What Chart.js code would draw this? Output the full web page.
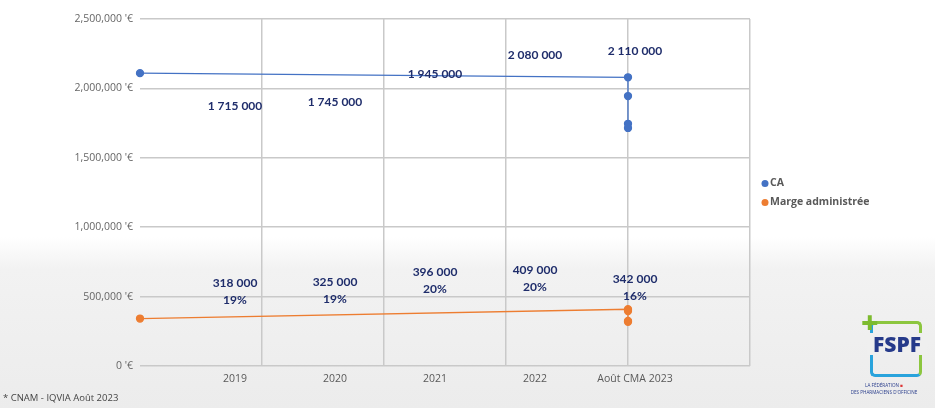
<!DOCTYPE html>
<html>
<head>
<meta charset="utf-8">
<script src="https://cdn.jsdelivr.net/npm/chart.js@4.4.1/dist/chart.umd.min.js"></script>
<style>
    body {
        margin: 0;
        width: 935px;
        height: 408px;
        overflow: hidden;
        background: linear-gradient(to bottom, #ffffff 0%, #ffffff 58%, #f2f2f2 66%, #ececec 100%);
        font-family: "Open Sans", sans-serif;
        position: relative;
    }
    #wrap { position: absolute; left: 0; top: 0; width: 935px; height: 408px; }
    #source { position: absolute; left: 3px; top: 391px; font-size: 9.5px; color: #444; }
    #logo { position: absolute; left: 858px; top: 308px; width: 77px; height: 100px; }
    #logo .box {
        position: absolute; left: 12px; top: 13px; width: 46px; height: 50px;
        border: 3px solid #8cc63f; border-left-color: #29a3dc; border-bottom-color: #29a3dc;
        border-radius: 5px;
    }
    #logo .plus { position: absolute; left: 3px; top: 0px; font-size: 30px; font-weight: 900; color: #7dbb2f; line-height: 28px; }
    #logo .name {
        position: absolute; left: 9px; top: 25px; width: 60px; text-align: center;
        font-family: "Open Sans", sans-serif; font-weight: 800; font-size: 21px; color: #263a8a;
        background: #efefef; line-height: 22px;
    }
    #logo .sub { position: absolute; left: -26px; top: 74px; width: 104px; text-align: center; font-size: 4.6px; line-height: 7px; color: #263a8a; white-space: nowrap; }
</style>
</head>
<body>
<div id="wrap"><canvas id="myChart"></canvas></div>
<div id="source">* CNAM - IQVIA Août 2023</div>
<div id="logo">
    <div class="box"></div>
    <div class="plus">+</div>
    <div class="name">FSPF</div>
    <div class="sub">LA FÉDÉRATION <span style="color:#d33">■</span><br>DES PHARMACIENS D'OFFICINE</div>
</div>
<script>
    // données
    var categories = ['2019', '2020', '2021', '2022', 'Août CMA 2023'];
    var ca = [1715000, 1745000, 1945000, 2080000, 2110000];
    var marge = [318000, 325000, 396000, 409000, 342000];
    var taux = ['19%', '19%', '20%', '20%', '16%'];
    // abscisse (x) donnée à chaque point par le tableur
    var pointX = [4, 4, 4, 4, 0];

    var yTicks = [0, 500000, 1000000, 1500000, 2000000, 2500000];

    function points(values) {
        var out = [];
        for (var i = values.length - 1; i >= 0; i--) {
            out.push({ x: pointX[i], y: values[i] });
        }
        return out;
    }

    var labelFont = 'bold 12px Lato';
    var labelColor = '#1f2d6b';

    // étiquettes de données + légende
    const extras = {
        id: 'extras',
        afterDatasetsDraw(chart) {
            const ctx = chart.ctx;
            const xc = chart.scales.xc;
            const y = chart.scales.y;
            ctx.save();
            ctx.font = labelFont;
            ctx.fillStyle = labelColor;
            ctx.textAlign = 'center';
            ctx.textBaseline = 'middle';
            for (let i = 0; i < categories.length; i++) {
                let px = xc.getPixelForValue(i + 1);
                let py = y.getPixelForValue(ca[i]) - 22;
                ctx.fillText(ca[i].toLocaleString('fr-FR').replace(/\s/g, ' '), px, py);
                let my = y.getPixelForValue(marge[i]) - 22;
                ctx.fillText(marge[i].toLocaleString('fr-FR').replace(/\s/g, ' '), px, my - 17);
                ctx.fillText(taux[i], px, my);
            }
            // légende
            const area = chart.chartArea;
            const mid = (area.top + area.bottom) / 2;
            chart.data.datasets.forEach(function (ds, k) {
                let ly = mid - 9 + k * 19;
                ctx.beginPath();
                ctx.fillStyle = ds.borderColor;
                ctx.arc(area.right + 15, ly, 3.5, 0, Math.PI * 2);
                ctx.fill();
                ctx.fillStyle = '#595959';
                ctx.font = 'bold 10.5px "Open Sans"';
                ctx.textAlign = 'left';
                ctx.fillText(ds.label, area.right + 20, ly);
            });
            ctx.restore();
        }
    };

    const ctx = document.getElementById('myChart').getContext('2d');
    const myChart = new Chart(ctx, {
        type: 'scatter',
        data: {
            datasets: [
                {
                    label: 'CA',
                    data: points(ca),
                    showLine: true,
                    clip: false,
                    borderColor: '#4472c4',
                    backgroundColor: '#4472c4',
                    borderWidth: 1.3,
                    pointRadius: 3.5,
                    xAxisID: 'x',
                    yAxisID: 'y',
                },
                {
                    label: 'Marge administrée',
                    data: points(marge),
                    showLine: true,
                    clip: false,
                    borderColor: '#ed7d31',
                    backgroundColor: '#ed7d31',
                    borderWidth: 1.3,
                    pointRadius: 3.5,
                    xAxisID: 'x',
                    yAxisID: 'y',
                }
            ]
        },
        options: {
            responsive: true,
            maintainAspectRatio: false,
            animation: false,
            layout: {
                padding: { top: 19, right: 185, bottom: 0, left: 0 }
            },
            plugins: {
                legend: { display: false },
                tooltip: { enabled: false },
            },
            scales: {
                x: {
                    type: 'linear',
                    position: 'bottom',
                    min: 0,
                    max: 5,
                    border: { display: false },
                    grid: {
                        color: function (context) {
                            if (context.tick.value == 0) {
                                return 'rgba(0,0,0,0)';
                            }
                            return '#c9c9c9';
                        },
                        lineWidth: 1.5,
                        drawTicks: false,
                    },
                    ticks: { display: false, stepSize: 1 },
                    afterFit: function (scale) { scale.height = 0; },
                },
                xc: {
                    type: 'linear',
                    position: 'bottom',
                    min: 0.05,
                    max: 6.15,
                    border: { display: false },
                    grid: { display: false, drawTicks: false },
                    afterBuildTicks: function (scale) {
                        scale.ticks = categories.map(function (c, i) { return { value: i + 1 }; });
                    },
                    ticks: {
                        autoSkip: false,
                        maxRotation: 0,
                        padding: 7,
                        color: '#595959',
                        font: { family: 'Open Sans', size: 10.5 },
                        callback: function (value) {
                            return categories[Math.round(value) - 1];
                        },
                    },
                    afterFit: function (scale) { scale.height = 42; },
                },
                y: {
                    min: 0,
                    max: 2500000,
                    border: { display: false },
                    afterBuildTicks: function (scale) {
                        scale.ticks = yTicks.map(function (v) { return { value: v }; });
                    },
                    grid: {
                        color: '#c9c9c9',
                        lineWidth: 1.5,
                        drawTicks: false,
                    },
                    ticks: {
                        padding: 7,
                        color: '#666666',
                        font: { family: 'Open Sans', size: 10.5 },
                        callback: function (value) {
                            return value.toLocaleString('en-US') + " '€";
                        },
                    },
                    afterFit: function (scale) { scale.width = 140; },
                }
            }
        },
        plugins: [extras]
    });
</script>
</body>
</html>
